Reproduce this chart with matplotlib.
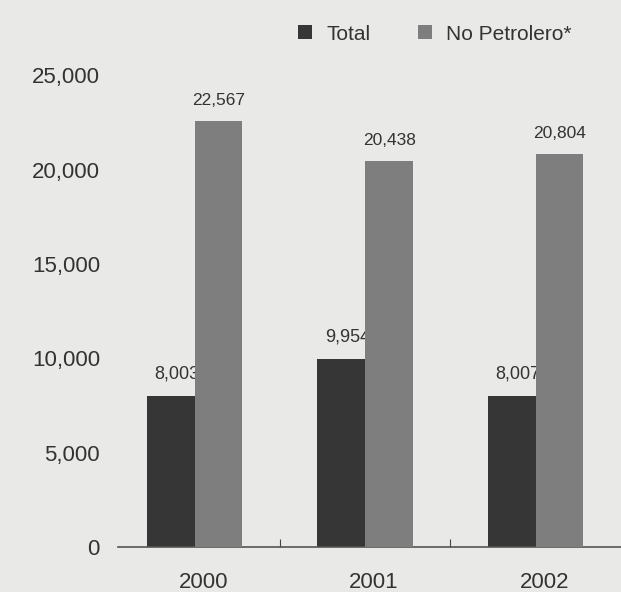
import matplotlib
matplotlib.use("Agg")
import matplotlib.pyplot as plt
import numpy as np

years = ["2000", "2001", "2002"]
total = [8003, 9954, 8007]
no_petrolero = [22567, 20438, 20804]
total_labels = ["8,003", "9,954", "8,007"]
nopet_labels = ["22,567", "20,438", "20,804"]
yticks = [0, 5000, 10000, 15000, 20000, 25000]
ytick_labels = ["0", "5,000", "10,000", "15,000", "20,000", "25,000"]

plt.rcParams['font.family'] = ['Liberation Sans', 'DejaVu Sans']
bg = '#e9e9e7'
fig = plt.figure(figsize=(6.21, 5.92), dpi=100, facecolor=bg)
ax = fig.add_axes([0.19, 0.076, 0.81, 0.797], facecolor=bg)

x = np.arange(len(years))
w = 0.28
dark = '#363636'
light = '#7e7e7e'
ax.bar(x - w/2, total, w, color=dark, label='Total', zorder=2)
ax.bar(x + w/2, no_petrolero, w, color=light, label='No Petrolero*', zorder=3)

for i in range(len(years)):
    ax.text(x[i] - w/2 + 0.035, total[i] + 700, total_labels[i], ha='center', va='bottom',
            fontsize=13, color='#333333', zorder=2.5)
    ax.text(x[i] + w/2, no_petrolero[i] + 700, nopet_labels[i], ha='center', va='bottom',
            fontsize=12.5, color='#333333', zorder=4)

ax.set_xlim(-0.45, 2.5)
ax.set_ylim(0, 25000)
ax.set_yticks(yticks)
ax.set_yticklabels(ytick_labels, fontsize=16, color='#333333')
ax.set_xticks([0.5, 1.5])
ax.set_xticklabels([])
ax.tick_params(axis='x', direction='in', length=6, color='#444444')
ax.tick_params(axis='y', length=0, pad=13)
for i, yr in enumerate(years):
    ax.text(x[i] + 0.05, -1300, yr, ha='center', va='top', fontsize=16, color='#333333')

for s in ['top', 'right', 'left']:
    ax.spines[s].set_visible(False)
ax.spines['bottom'].set_color('#555555')
ax.spines['bottom'].set_linewidth(1.2)

leg = fig.legend(loc='upper left', bbox_to_anchor=(0.45, 0.99), ncol=2, frameon=False,
                 fontsize=15, handlelength=0.65, handleheight=0.65, columnspacing=2.3,
                 handletextpad=0.7)
for t in leg.get_texts():
    t.set_color('#333333')

fig.savefig('out.png', dpi=100, facecolor=bg)
